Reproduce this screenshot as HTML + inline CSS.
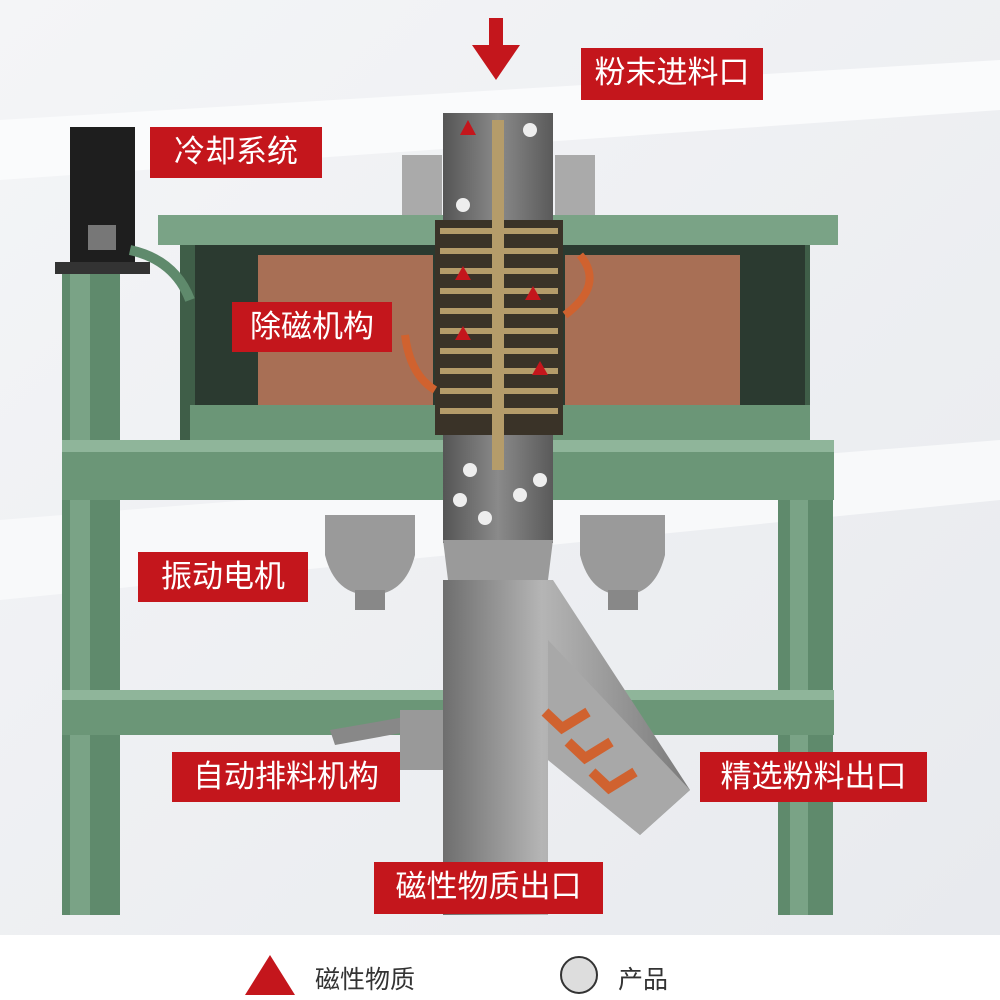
<!DOCTYPE html>
<html><head><meta charset="utf-8"><style>
body{margin:0;width:1000px;height:1000px;overflow:hidden;background:#fff;font-family:"Liberation Sans","Noto Sans CJK SC",sans-serif;}
.l{position:absolute;background:#c4161c;color:#fff;font-size:31px;line-height:50px;text-align:center;}
.t{position:absolute;font-size:25px;color:#333;}
</style></head><body>
<svg width="1000" height="1000" style="position:absolute;left:0;top:0">
<defs>
<linearGradient id="bg" x1="0" y1="0" x2="1" y2="1"><stop offset="0" stop-color="#f4f5f7"/><stop offset="1" stop-color="#e8eaee"/></linearGradient>
<linearGradient id="pipe" x1="0" x2="1"><stop offset="0" stop-color="#6e6e6e"/><stop offset=".4" stop-color="#b5b5b5"/><stop offset="1" stop-color="#7a7a7a"/></linearGradient>
<linearGradient id="col" x1="0" x2="1"><stop offset="0" stop-color="#555"/><stop offset=".5" stop-color="#8a8a8a"/><stop offset="1" stop-color="#5a5a5a"/></linearGradient>
</defs>
<rect width="1000" height="935" fill="url(#bg)"/>
<polygon points="0,120 1000,60 1000,110 0,180" fill="#fafbfc"/>
<polygon points="0,520 1000,440 1000,500 0,600" fill="#f8f9fa"/>
<rect x="62" y="270" width="58" height="645" fill="#5f8a6c"/>
<rect x="70" y="270" width="20" height="645" fill="#7aa386"/>
<rect x="778" y="440" width="55" height="475" fill="#5f8a6c"/>
<rect x="790" y="440" width="18" height="475" fill="#7aa386"/>
<rect x="158" y="215" width="680" height="30" fill="#7aa386"/>
<rect x="180" y="245" width="630" height="195" fill="#3f5e48"/>
<rect x="195" y="245" width="610" height="170" fill="#2b3a30"/>
<rect x="258" y="255" width="175" height="150" fill="#a86f55"/>
<rect x="565" y="255" width="175" height="150" fill="#a86f55"/>
<rect x="190" y="405" width="620" height="35" fill="#6b9677"/>
<rect x="62" y="440" width="772" height="60" fill="#6b9677"/>
<rect x="62" y="440" width="772" height="12" fill="#8fb59a"/>
<rect x="62" y="690" width="772" height="45" fill="#6b9677"/>
<rect x="62" y="690" width="772" height="10" fill="#8fb59a"/>
<rect x="70" y="127" width="65" height="143" fill="#1e1e1e"/>
<rect x="55" y="262" width="95" height="12" fill="#333"/>
<rect x="88" y="225" width="28" height="25" fill="#777"/>
<path d="M130 250 Q175 260 190 300" stroke="#5f8a6c" stroke-width="10" fill="none"/>
<path d="M325 515 h90 v40 q-10 40 -45 40 q-35 0 -45 -40z" fill="#9a9a9a"/>
<rect x="355" y="590" width="30" height="20" fill="#888"/>
<path d="M580 515 h85 v40 q-10 40 -42 40 q-33 0 -43 -40z" fill="#9a9a9a"/>
<rect x="608" y="590" width="30" height="20" fill="#888"/>
<polygon points="330,730 445,710 445,725 335,745" fill="#888"/>
<rect x="400" y="710" width="45" height="60" fill="#999"/>
<rect x="443" y="113" width="110" height="430" fill="url(#col)"/>
<rect x="402" y="155" width="40" height="60" fill="#aaa"/>
<rect x="555" y="155" width="40" height="60" fill="#aaa"/>
<rect x="435" y="220" width="128" height="215" fill="#3a3328"/>
<g fill="#b59c6a">
<rect x="440" y="228" width="118" height="6"/><rect x="440" y="248" width="118" height="6"/><rect x="440" y="268" width="118" height="6"/><rect x="440" y="288" width="118" height="6"/><rect x="440" y="308" width="118" height="6"/><rect x="440" y="328" width="118" height="6"/><rect x="440" y="348" width="118" height="6"/><rect x="440" y="368" width="118" height="6"/><rect x="440" y="388" width="118" height="6"/><rect x="440" y="408" width="118" height="6"/>
<rect x="492" y="120" width="12" height="350"/>
</g>
<polygon points="443,540 553,540 548,580 448,580" fill="#9a9a9a"/>
<polygon points="443,580 553,580 690,790 640,835 548,760 548,915 443,915" fill="url(#pipe)"/>
<polygon points="548,640 690,790 640,835 548,760" fill="#a8a8a8"/>
<g fill="none" stroke="#d0622f" stroke-width="10">
<polyline points="545,712 562,728 588,712"/><polyline points="568,742 585,758 611,742"/><polyline points="592,772 609,788 635,772"/>
</g>
<path d="M580 255 q25 30 -15 60" stroke="#d0622f" stroke-width="8" fill="none"/>
<path d="M405 335 q5 40 30 55" stroke="#d0622f" stroke-width="8" fill="none"/>
<g fill="#eee"><circle cx="463" cy="205" r="7"/><circle cx="530" cy="130" r="7"/><circle cx="470" cy="470" r="7"/><circle cx="520" cy="495" r="7"/><circle cx="460" cy="500" r="7"/><circle cx="485" cy="518" r="7"/><circle cx="540" cy="480" r="7"/></g>
<g fill="#c4161c"><polygon points="460,135 468,120 476,135"/><polygon points="455,280 463,266 471,280"/><polygon points="525,300 533,286 541,300"/><polygon points="455,340 463,326 471,340"/><polygon points="532,375 540,361 548,375"/></g>
<rect x="489" y="18" width="14" height="35" fill="#c4161c"/>
<polygon points="472,45 520,45 496,80" fill="#c4161c"/>
<polygon points="245,995 270,955 295,995" fill="#c4161c"/>
<circle cx="579" cy="975" r="18" fill="#ddd" stroke="#333" stroke-width="2"/>
</svg>
<div class="l" style="left:581px;top:48px;width:182px;height:52px">粉末进料口</div>
<div class="l" style="left:150px;top:127px;width:172px;height:51px">冷却系统</div>
<div class="l" style="left:232px;top:302px;width:160px;height:50px">除磁机构</div>
<div class="l" style="left:138px;top:552px;width:170px;height:50px">振动电机</div>
<div class="l" style="left:172px;top:752px;width:228px;height:50px">自动排料机构</div>
<div class="l" style="left:700px;top:752px;width:227px;height:50px">精选粉料出口</div>
<div class="l" style="left:374px;top:862px;width:229px;height:52px">磁性物质出口</div>
<div class="t" style="left:315px;top:960px">磁性物质</div>
<div class="t" style="left:618px;top:960px">产品</div>
</body></html>
